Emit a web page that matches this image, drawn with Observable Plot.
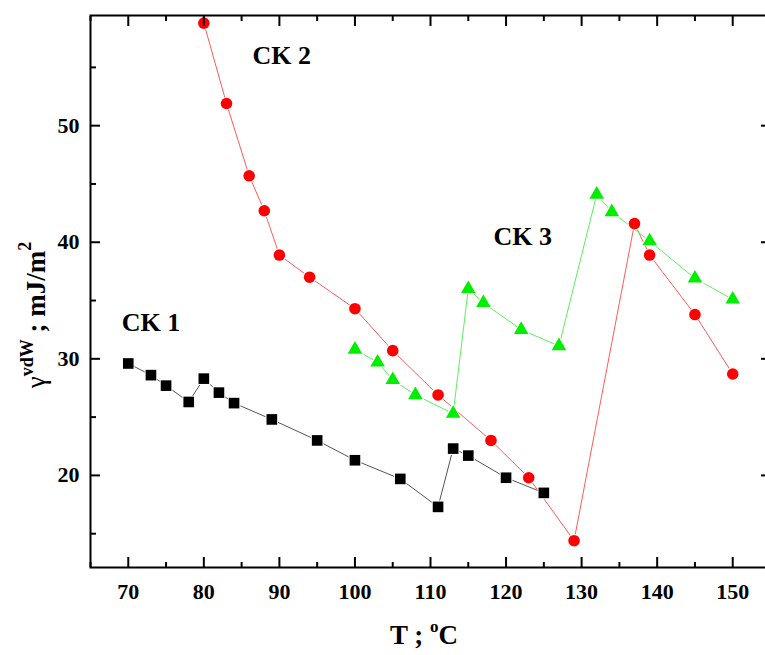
<!DOCTYPE html>
<html>
<head>
<meta charset="utf-8">
<script src="https://cdn.jsdelivr.net/npm/d3@7"></script>
<script src="https://cdn.jsdelivr.net/npm/@observablehq/plot@0.6"></script>
<style>
html, body { margin: 0; padding: 0; background: #fff; overflow: hidden; }
</style>
</head>
<body>
<div id="chart"></div>
<script>
// CK 1 (black squares)
const ck1T = [70, 73, 75, 78, 80, 82, 84, 89, 95, 100, 106, 111, 113, 115, 120, 125];
const ck1G = [29.6, 28.6, 27.7, 26.3, 28.3, 27.1, 26.2, 24.8, 23.0, 21.3, 19.7, 17.3, 22.3, 21.7, 19.8, 18.5];
// CK 2 (red circles)
const ck2T = [80, 83, 86, 88, 90, 94, 100, 105, 111, 118, 123, 129, 137, 139, 145, 150];
const ck2G = [58.8, 51.9, 45.7, 42.7, 38.9, 37.0, 34.3, 30.7, 26.9, 23.0, 19.8, 14.4, 41.6, 38.9, 33.8, 28.7];
// CK 3 (green triangles)
const ck3T = [100, 103, 105, 108, 113, 115, 117, 122, 127, 132, 134, 139, 145, 150];
const ck3G = [30.8, 29.7, 28.2, 26.9, 25.3, 36.0, 34.8, 32.5, 31.1, 44.1, 42.6, 40.1, 36.9, 35.1];

// series labels
const labelText = ["CK 1", "CK 2", "CK 3"];
const labelT = [73.0, 90.3, 122.2];
const labelG = [33.1, 56.0, 40.5];

// ticks
const xMajor = [70, 80, 90, 100, 110, 120, 130, 140, 150];
const xMinor = [65, 75, 85, 95, 105, 115, 125, 135, 145, 155];
const yMajor = [20, 30, 40, 50];
const yMinor = [15, 25, 35, 45, 55];

const rows = (T, G) => T.map((t, i) => ({T: t, G: G[i]}));
const ck1 = rows(ck1T, ck1G);
const ck2 = rows(ck2T, ck2G);
const ck3 = rows(ck3T, ck3G);
const labels = labelText.map((s, i) => ({text: s, T: labelT[i], G: labelG[i]}));

const serif = "'Liberation Serif', 'Times New Roman', serif";
const tickFont = {fontFamily: serif, fontWeight: "bold", fontSize: 22, fill: "#000"};
const blank = () => "";

const chart = Plot.plot({
  width: 765,
  height: 655,
  marginLeft: 90,
  marginRight: -5,
  marginTop: 15,
  marginBottom: 88,
  x: {domain: [65, 155], label: null},
  y: {domain: [12.1, 59.45], label: null},
  style: {background: "#fff", fontFamily: serif},
  marks: [
    Plot.line(ck1, {x: "T", y: "G", stroke: "#555", strokeWidth: 1}),
    Plot.line(ck2, {x: "T", y: "G", stroke: "#ff5a5a", strokeWidth: 1}),
    Plot.line(ck3, {x: "T", y: "G", stroke: "#5cf05c", strokeWidth: 1}),
    Plot.dot(ck1, {x: "T", y: "G", symbol: "square", r: 6.0, fill: "#000", stroke: "#fff", strokeWidth: 2, paintOrder: "stroke"}),
    Plot.dot(ck2, {x: "T", y: "G", symbol: "circle", r: 5.8, fill: "#ff0000", stroke: "#fff", strokeWidth: 2, paintOrder: "stroke"}),
    Plot.dot(ck3, {x: "T", y: "G", symbol: "triangle", r: 5.4, fill: "#00ee00", stroke: "#fff", strokeWidth: 2, paintOrder: "stroke"}),
    Plot.text(labels, {x: "T", y: "G", text: "text", fontFamily: serif, fontWeight: "bold", fontSize: 26, fill: "#000"}),
    // inward ticks, all four sides
    Plot.axisX({anchor: "bottom", ticks: xMajor, tickSize: -10, strokeWidth: 2, tickFormat: blank, label: null}),
    Plot.axisX({anchor: "bottom", ticks: xMinor, tickSize: -5, strokeWidth: 2, tickFormat: blank, label: null}),
    Plot.axisX({anchor: "top", ticks: xMajor, tickSize: -10, strokeWidth: 2, tickFormat: blank, label: null}),
    Plot.axisX({anchor: "top", ticks: xMinor, tickSize: -5, strokeWidth: 2, tickFormat: blank, label: null}),
    Plot.axisY({anchor: "left", ticks: yMajor, tickSize: -10, strokeWidth: 2, tickFormat: blank, label: null}),
    Plot.axisY({anchor: "left", ticks: yMinor, tickSize: -6, strokeWidth: 2, tickFormat: blank, label: null}),
    Plot.axisY({anchor: "right", ticks: yMajor, tickSize: -10, strokeWidth: 2, tickFormat: blank, label: null}),
    Plot.axisY({anchor: "right", ticks: yMinor, tickSize: -6, strokeWidth: 2, tickFormat: blank, label: null}),
    // tick labels
    Plot.axisX({anchor: "bottom", ticks: xMajor, tickSize: 0, tickPadding: 16, label: null, ...tickFont}),
    Plot.axisY({anchor: "left", ticks: yMajor, tickSize: 0, tickPadding: 11, label: null, ...tickFont}),
    Plot.frame({stroke: "#000", strokeWidth: 2})
  ]
});

document.getElementById("chart").appendChild(chart);

// axis titles with superscripts
const svg = d3.select(chart);
const xt = svg.append("text")
  .attr("x", 424).attr("y", 644)
  .attr("text-anchor", "middle")
  .attr("font-family", serif).attr("font-weight", "bold").attr("font-size", 27).attr("fill", "#000");
xt.append("tspan").text("T ; ");
xt.append("tspan").attr("font-size", 17).attr("dy", -12).text("o");
xt.append("tspan").attr("dy", 12).text("C");

const yt = svg.append("text")
  .attr("transform", "translate(45,315) rotate(-90)")
  .attr("text-anchor", "middle")
  .attr("font-family", serif).attr("font-weight", "bold").attr("font-size", 27).attr("fill", "#000");
yt.append("tspan").attr("font-weight", "normal").text("γ");
yt.append("tspan").attr("font-size", 18).attr("dy", -12).text("vdW");
yt.append("tspan").attr("dy", 12).text(" ; mJ/m");
yt.append("tspan").attr("font-size", 18).attr("dy", -14).text("2");
</script>
</body>
</html>
